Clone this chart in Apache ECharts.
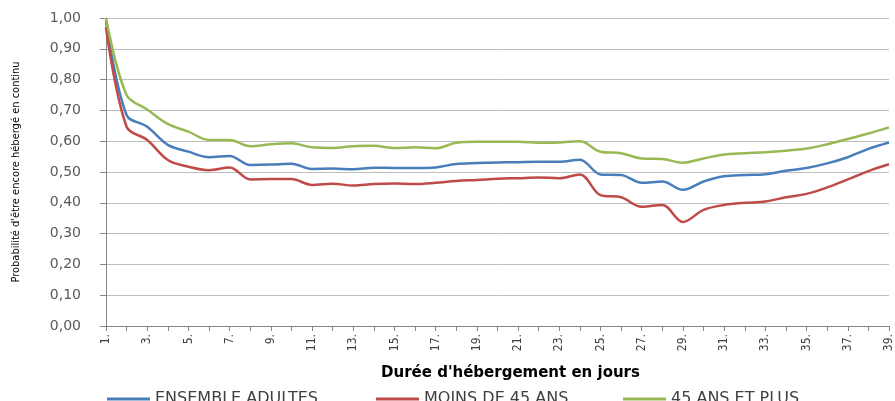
<!DOCTYPE html>
<html>
<head>
<meta charset="utf-8">
<script src="https://cdn.jsdelivr.net/npm/echarts@6/dist/echarts.min.js"></script>
<style>
  html, body { margin: 0; padding: 0; background: #fff; }
  #chart { width: 895px; height: 401px; }
</style>
</head>
<body>
<div id="chart"></div>
<script>
// jours d'hébergement 1 à 39
const days = ['1.', '2.', '3.', '4.', '5.', '6.', '7.', '8.', '9.', '10.',
  '11.', '12.', '13.', '14.', '15.', '16.', '17.', '18.', '19.', '20.',
  '21.', '22.', '23.', '24.', '25.', '26.', '27.', '28.', '29.', '30.',
  '31.', '32.', '33.', '34.', '35.', '36.', '37.', '38.', '39.'];

const ensembleAdultes = [0.99, 0.685, 0.647, 0.588, 0.566, 0.548, 0.552, 0.523, 0.524, 0.527,
  0.510, 0.511, 0.509, 0.514, 0.513, 0.513, 0.515, 0.526, 0.529, 0.531,
  0.532, 0.533, 0.533, 0.540, 0.492, 0.490, 0.465, 0.469, 0.442, 0.469,
  0.486, 0.490, 0.493, 0.504, 0.513, 0.528, 0.548, 0.575, 0.596];

const moinsDe45 = [0.97, 0.647, 0.604, 0.539, 0.517, 0.506, 0.515, 0.476, 0.477, 0.477,
  0.458, 0.462, 0.456, 0.461, 0.463, 0.461, 0.465, 0.471, 0.474, 0.478,
  0.480, 0.482, 0.480, 0.492, 0.425, 0.418, 0.387, 0.393, 0.338, 0.377,
  0.393, 0.400, 0.404, 0.418, 0.429, 0.450, 0.476, 0.503, 0.525];

const plus45 = [1.00, 0.750, 0.703, 0.656, 0.631, 0.604, 0.604, 0.584, 0.590, 0.593,
  0.580, 0.578, 0.584, 0.585, 0.578, 0.580, 0.577, 0.595, 0.598, 0.598,
  0.598, 0.595, 0.596, 0.600, 0.566, 0.561, 0.544, 0.542, 0.530, 0.544,
  0.557, 0.561, 0.564, 0.569, 0.576, 0.590, 0.607, 0.625, 0.645];

const yTicks = { min: 0, max: 1, interval: 0.1 };

const colors = { ensemble: '#4A7EBB', moins: '#BE4B48', plus: '#98B954' };

function makeLegend(name, left) {
  return {
    data: [name],
    left: left,
    top: 391,
    padding: 0,
    icon: 'rect',
    itemWidth: 43,
    itemHeight: 3,
    itemGap: 0,
    textStyle: { fontFamily: 'DejaVu Sans', fontSize: 16, color: '#404040' }
  };
}

function makeLine(name, data, color) {
  return {
    name: name,
    type: 'line',
    data: data,
    smooth: 0.35,
    showSymbol: false,
    symbol: 'none',
    lineStyle: { color: color, width: 2.5 },
    itemStyle: { color: color }
  };
}

const chart = echarts.init(document.getElementById('chart'), null, { renderer: 'canvas' });

chart.setOption({
  animation: false,
  backgroundColor: '#fff',
  grid: { left: 106, top: 18, width: 790, height: 308 },
  legend: [
    makeLegend('ENSEMBLE ADULTES', 107),
    makeLegend('MOINS DE 45 ANS', 376),
    makeLegend('45 ANS ET PLUS', 623)
  ],
  xAxis: {
    type: 'category',
    data: days,
    boundaryGap: false,
    name: "Durée d'hébergement en jours",
    nameLocation: 'middle',
    nameGap: 40,
    nameTextStyle: { fontFamily: 'DejaVu Sans', fontSize: 15, fontWeight: 'bold', color: '#000', padding: [0, 0, 0, 26] },
    axisLine: { lineStyle: { color: '#868686', width: 1 } },
    axisTick: { interval: 0, length: 5, lineStyle: { color: '#868686' } },
    axisLabel: {
      interval: 1,
      rotate: 90,
      margin: 8,
      fontFamily: 'Liberation Sans Narrow, DejaVu Sans Condensed, sans-serif',
      fontSize: 12,
      color: '#404040'
    },
    splitLine: { show: false }
  },
  yAxis: {
    type: 'value',
    min: yTicks.min,
    max: yTicks.max,
    interval: yTicks.interval,
    name: "Probabilité d'être encore hébergé en continu",
    nameLocation: 'middle',
    nameGap: 84,
    nameRotate: 90,
    nameTextStyle: {
      fontFamily: 'Liberation Sans Narrow, DejaVu Sans Condensed, sans-serif',
      fontSize: 11,
      color: '#000'
    },
    axisLine: { show: true, lineStyle: { color: '#868686', width: 1 } },
    axisTick: { show: true, length: 6, lineStyle: { color: '#868686' } },
    axisLabel: {
      margin: 25,
      fontFamily: 'DejaVu Sans',
      fontSize: 14,
      color: '#595959',
      formatter: v => v.toFixed(2).replace('.', ',')
    },
    splitLine: { lineStyle: { color: '#BFBFBF', width: 1 } }
  },
  series: [
    makeLine('ENSEMBLE ADULTES', ensembleAdultes, colors.ensemble),
    makeLine('MOINS DE 45 ANS', moinsDe45, colors.moins),
    makeLine('45 ANS ET PLUS', plus45, colors.plus)
  ]
});
</script>
</body>
</html>
